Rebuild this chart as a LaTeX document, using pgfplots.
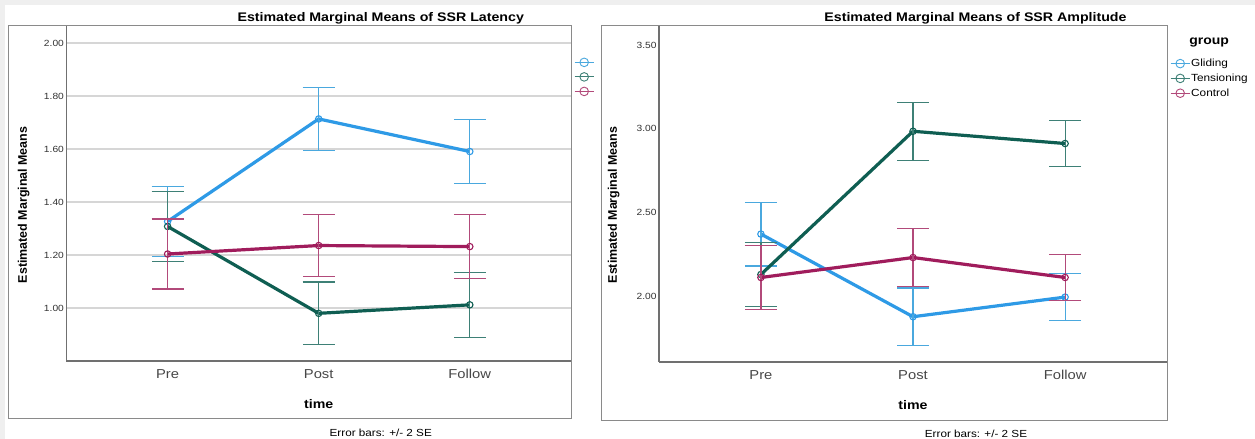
\documentclass[border=0pt]{standalone}
\usepackage{fontspec}
\setmainfont{Liberation Sans}[FakeStretch=1.14]
\newfontfamily\ylabfont{Liberation Sans}
\usepackage{pgfplots}
\pgfplotsset{compat=1.18}
\definecolor{bgGray}{HTML}{EFEFEF}
\definecolor{boxGray}{HTML}{8A8A8A}
\definecolor{axGray}{HTML}{707070}
\definecolor{gridGray}{HTML}{D6D6D6}
\definecolor{glid}{HTML}{2E9AE6}
\definecolor{glidE}{HTML}{4AA8DE}
\definecolor{tens}{HTML}{0F5E52}
\definecolor{tensE}{HTML}{3E8076}
\definecolor{ctrl}{HTML}{A01C5C}
\definecolor{ctrlE}{HTML}{B24A7A}
\pgfplotsset{
  emm/.style={
    scale only axis,
    clip mode=individual,
    xmin=-0.67, xmax=2.67,
    xtick={0,1,2}, xticklabels={Pre,Post,Follow},
    major tick length=0pt,
    axis x line*=bottom, axis y line*=left,
    axis line style={axGray, line width=1.2bp},
    xticklabel style={font=\fontsize{13}{15}\selectfont, text=black!72, yshift=-5bp},
    yticklabel style={font=\fontsize{9}{10}\selectfont, text=black!80, xshift=1bp},
    /pgf/number format/.cd, fixed, fixed zerofill, precision=2, assume math mode=true,
    /pgfplots/.cd,
    xlabel={time},
    xlabel style={at={(axis description cs:0.5,-0.128)}, anchor=center, font=\bfseries\fontsize{12.5}{15}\selectfont},
    ylabel={Estimated Marginal Means},
    ylabel style={anchor=center, font=\ylabfont\bfseries\fontsize{12.5}{15}\selectfont},
    title style={at={(axis description cs:0.623,1)}, anchor=base, yshift=-1bp, font=\bfseries\fontsize{12.5}{15}\selectfont},
    legend style={draw=none, fill=none, inner sep=0pt, row sep=3.8bp,
      font=\fontsize{10.4}{12}\selectfont, anchor=north west,
      nodes={inner sep=1bp}},
    legend cell align=left,
    legend image code/.code={
      \draw[#1, mark=none] (0bp,0bp) -- (19bp,0bp);
      \draw[#1, only marks, mark=o, mark size=4.3bp] plot coordinates {(9.5bp,0bp)};
    },
  },
  ser/.style n args={2}{
    #1, line width=3.2bp, mark=o, mark size=3.2bp,
    mark options={line width=1.1bp, fill=#1!25, solid},
    error bars/.cd, y dir=both, y explicit,
    error bar style={#2, line width=1.2bp},
    error mark options={#2, line width=1.2bp, mark size=16bp, rotate=90},
    /pgfplots/.cd,
  },
}
\begin{document}
\begin{tikzpicture}[x=1bp, y=1bp]
\fill[bgGray] (0,0) rectangle (1255,439);
\fill[white] (5,0) rectangle (1255,434);
\useasboundingbox (0,0) rectangle (1255,439);
\draw[boxGray, line width=1bp] (8,20) rectangle (571,413);
\draw[boxGray, line width=1bp] (601,18) rectangle (1167,413);

% ---------------- Left: SSR Latency ----------------
\begin{axis}[emm,
  at={(66.4bp,78bp)}, anchor=south west,
  width=504.6bp, height=335bp,
  ymin=0.80, ymax=2.065,
  ytick={1.0,1.2,1.4,1.6,1.8,2.0},
  ymajorgrids, grid style={gridGray, line width=1.4bp},
  ylabel style={at={(axis description cs:-0.0846,0.466)}},
  title={Estimated Marginal Means of SSR Latency},
  legend style={at={(axis description cs:1.006,0.908)}},
]
\addplot[ser={glid}{glidE}, forget plot] coordinates {
  (0,1.327) +- (0,0.131)
  (1,1.714) +- (0,0.118)
  (2,1.591) +- (0,0.122)
};
\addplot[ser={tens}{tensE}, forget plot] coordinates {
  (0,1.308) +- (0,0.132)
  (1,0.980) +- (0,0.118)
  (2,1.012) +- (0,0.123)
};
\addplot[ser={ctrl}{ctrlE}, forget plot] coordinates {
  (0,1.204) +- (0,0.132)
  (1,1.236) +- (0,0.116)
  (2,1.232) +- (0,0.121)
};
\addlegendimage{glidE, line width=0.9bp}
\addlegendentry{\vphantom{Gg}}
\addlegendimage{tensE, line width=0.9bp}
\addlegendentry{\vphantom{Gg}}
\addlegendimage{ctrlE, line width=0.9bp}
\addlegendentry{\vphantom{Gg}}
\node[font=\fontsize{10.3}{12}\selectfont, anchor=center] at (axis description cs:0.623,-0.215) {Error bars: +/- 2 SE};
\end{axis}

% ---------------- Right: SSR Amplitude ----------------
\begin{axis}[emm,
  at={(659bp,77bp)}, anchor=south west,
  width=508bp, height=336bp,
  ymin=1.609, ymax=3.613,
  ytick={2.0,2.5,3.0,3.5},
  ylabel style={at={(axis description cs:-0.089,0.467)}},
  title={Estimated Marginal Means of SSR Amplitude},
  legend style={at={(axis description cs:1.006,0.905)}},
]
\addplot[ser={glid}{glidE}, forget plot] coordinates {
  (0,2.372) +- (0,0.190)
  (1,1.879) +- (0,0.171)
  (2,1.996) +- (0,0.139)
};
\addplot[ser={tens}{tensE}, forget plot] coordinates {
  (0,2.131) +- (0,0.191)
  (1,2.985) +- (0,0.172)
  (2,2.912) +- (0,0.137)
};
\addplot[ser={ctrl}{ctrlE}, forget plot] coordinates {
  (0,2.113) +- (0,0.193)
  (1,2.232) +- (0,0.172)
  (2,2.113) +- (0,0.137)
};
\addlegendimage{glidE, line width=0.9bp}
\addlegendentry{Gliding}
\addlegendimage{tensE, line width=0.9bp}
\addlegendentry{Tensioning}
\addlegendimage{ctrlE, line width=0.9bp}
\addlegendentry{Control}
\node[font=\bfseries\fontsize{12.3}{14}\selectfont, anchor=center] at (axis description cs:1.083,0.952) {group};
\node[font=\fontsize{10.3}{12}\selectfont, anchor=center] at (axis description cs:0.624,-0.214) {Error bars: +/- 2 SE};
\end{axis}
\end{tikzpicture}
\end{document}
